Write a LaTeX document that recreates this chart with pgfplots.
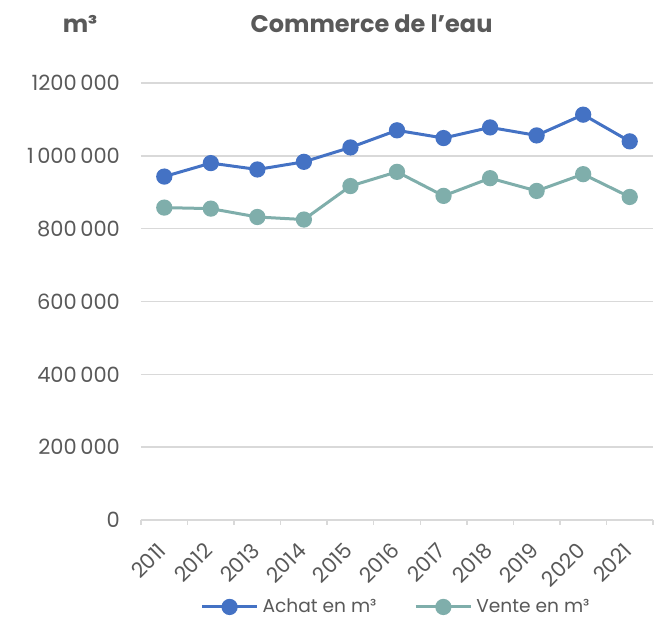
\documentclass[border=0pt]{standalone}
\usepackage{fontspec}
\setmainfont{Poppins}
\usepackage{pgfplots}
\pgfplotsset{compat=1.18}
\definecolor{achat}{HTML}{4472C4}
\definecolor{vente}{HTML}{7FAEAB}
\definecolor{gridc}{HTML}{D9D9D9}
\definecolor{txt}{HTML}{595959}
\begin{document}
\begin{tikzpicture}[x=1pt,y=1pt]
\path[use as bounding box] (0,0) rectangle (330,309.5);
\begin{axis}[
  at={(70.5pt,49.5pt)}, anchor=south west,
  scale only axis, width=256pt, height=218.5pt,
  xmin=-0.5, xmax=10.5, ymin=0, ymax=1200000,
  scaled y ticks=false,
  xtick={0,...,10},
  xticklabels={2011,2012,2013,2014,2015,2016,2017,2018,2019,2020,2021},
  minor xtick={-0.5,0.5,...,10.5},
  ytick={0,200000,400000,600000,800000,1000000,1200000},
  yticklabels={0,200\,000,400\,000,600\,000,800\,000,1\,000\,000,1200\,000},
  axis line style={draw=none},
  ymajorgrids, grid style={gridc, line width=0.75pt},
  major tick length=0pt, minor tick length=2.5pt,
  tick align=outside, xtick pos=bottom, ytick pos=left,
  minor x tick style={gridc, line width=0.75pt},
  tick label style={font=\fontsize{10.5}{12}\selectfont, text=txt},
  yticklabel style={xshift=-7pt},
  xticklabel style={xshift=1.5pt, yshift=-11pt, rotate=45, anchor=east},
  legend style={at={(axis description cs:0.5,-0.199)}, anchor=center, draw=none,
    font=\fontsize{9.3}{11}\selectfont, text=txt, legend columns=2,
    /tikz/every even column/.append style={column sep=17pt}},
  legend cell align=left,
  legend image code/.code={
    \draw[mark repeat=2,mark phase=2,#1] plot coordinates {(0pt,0pt) (13.75pt,0pt) (27.5pt,0pt)};
  },
]
\addplot[achat, line width=1.5pt, mark=*, mark size=3.3pt] coordinates {
(0,943000) (1,980000) (2,962500) (3,983500) (4,1023000) (5,1070000)
(6,1048800) (7,1078000) (8,1056000) (9,1113000) (10,1039700)};
\addlegendentry{Achat en m³}
\addplot[vente, line width=1.5pt, mark=*, mark size=3.3pt] coordinates {
(0,857800) (1,855000) (2,832000) (3,825000) (4,917000) (5,956000)
(6,890000) (7,938600) (8,903600) (9,949600) (10,887000)};
\addlegendentry{Vente en m³}
\end{axis}
\node[anchor=base, text=txt, font=\fontsize{12}{14}\selectfont\bfseries] at (40pt,293pt) {m³};
\node[anchor=base, text=txt, font=\fontsize{12}{14}\selectfont\bfseries] at (185.75pt,293pt) {Commerce de l’eau};
\end{tikzpicture}
\end{document}
